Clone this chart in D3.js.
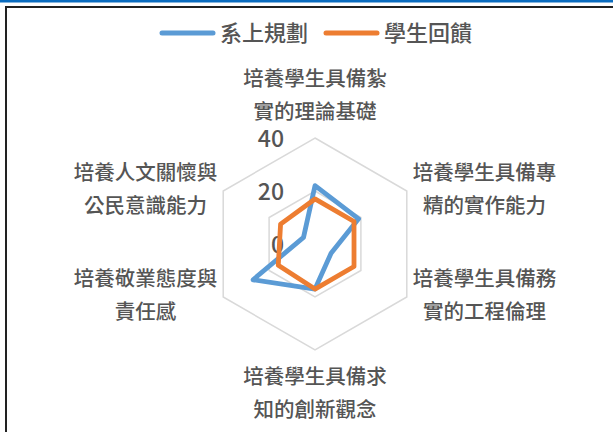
<!DOCTYPE html>
<html>
<head>
<meta charset="utf-8">
<script src="https://cdn.jsdelivr.net/npm/d3@7"></script>
<style>
  body { margin: 0; background: #fff; }
  text { font-family: "Noto Sans CJK TC", "Noto Sans", sans-serif; fill: #555; font-weight: 500; }
</style>
</head>
<body>
<div id="chart"></div>
<script>
// axis labels, two lines each, clockwise from the top
const axes = [
  ['培養學生具備紮', '實的理論基礎'],
  ['培養學生具備專', '精的實作能力'],
  ['培養學生具備務', '實的工程倫理'],
  ['培養學生具備求', '知的創新觀念'],
  ['培養敬業態度與', '責任感'],
  ['培養人文關懷與', '公民意識能力']
];
const seriesNames = ['系上規劃', '學生回饋'];
const planValues = [22, 19, 7, 17, 27, 5];
const feedbackValues = [17, 17, 17, 17, 16, 15];
const ticks = [0, 20, 40];

const width = 613;
const height = 432;
const cx = 315;
const cy = 244;
const colors = ['#5b9bd5', '#ed7d31'];

const svg = d3.select('#chart').append('svg')
  .attr('width', width)
  .attr('height', height);

// frame
svg.append('rect')
  .attr('x', 0).attr('y', 0)
  .attr('width', width).attr('height', 2.5)
  .style('fill', '#0a6cbf');
svg.append('path')
  .attr('d', `M6,${height} V7 H${width}`)
  .style('fill', 'none')
  .style('stroke', '#222')
  .style('stroke-width', 2);

const r = d3.scaleLinear().domain([0, 40]).range([0, 106]);
const angle = i => i * 2 * Math.PI / axes.length;

const g = svg.append('g')
  .attr('transform', `translate(${cx},${cy})`);

// grid rings
const ringLine = d3.lineRadial()
  .angle((d, i) => angle(i))
  .radius(d => r(d))
  .curve(d3.curveLinearClosed);

g.selectAll('.ring')
  .data(ticks.filter(t => t > 0))
  .enter()
  .append('path')
  .attr('class', 'ring')
  .attr('d', t => ringLine(axes.map(() => t)))
  .style('fill', 'none')
  .style('stroke', '#d9d9d9')
  .style('stroke-width', 1.5);

// tick labels
g.selectAll('.tick')
  .data(ticks)
  .enter()
  .append('text')
  .attr('class', 'tick')
  .attr('x', -31)
  .attr('y', t => -r(t) + 1)
  .attr('dy', '0.35em')
  .attr('text-anchor', 'end')
  .style('font-size', '23px')
  .text(t => t);

// series
const seriesLine = d3.lineRadial()
  .angle((d, i) => angle(i))
  .radius(d => r(d))
  .curve(d3.curveLinearClosed);

g.selectAll('.series')
  .data([planValues, feedbackValues])
  .enter()
  .append('path')
  .attr('class', 'series')
  .attr('d', seriesLine)
  .style('fill', 'none')
  .style('stroke', (d, i) => colors[i])
  .style('stroke-width', 4.8)
  .style('stroke-linejoin', 'round');

// axis labels
const outer = r(40);
const lineGap = 33;
const labelFont = 20.5;
axes.forEach((lines, i) => {
  const a = angle(i);
  const vx = outer * Math.sin(a);
  const vy = -outer * Math.cos(a);
  let x = vx;
  let y = vy;
  const halfW = d3.max(lines, s => s.length) * labelFont / 2;
  if (Math.abs(Math.sin(a)) < 0.01) {
    y = Math.cos(a) > 0 ? vy - 43 : vy + 43;
  } else {
    x = vx + Math.sign(Math.sin(a)) * (6 + halfW);
    y = vy - 2;
  }
  const t = g.append('text')
    .attr('text-anchor', 'middle')
    .style('font-size', labelFont + 'px');
  lines.forEach((s, j) => {
    t.append('tspan')
      .attr('x', x)
      .attr('y', y + (j - 0.5) * lineGap)
      .attr('dy', '0.35em')
      .text(s);
  });
});

// legend
const legend = svg.append('g').attr('class', 'legend');
const legendX = [160, 324];
seriesNames.forEach((name, i) => {
  legend.append('line')
    .attr('x1', legendX[i] + 2).attr('x2', legendX[i] + 53)
    .attr('y1', 33).attr('y2', 33)
    .style('stroke', colors[i])
    .style('stroke-width', 5)
    .style('stroke-linecap', 'round');
  legend.append('text')
    .attr('x', legendX[i] + 60)
    .attr('y', 33)
    .attr('dy', '0.35em')
    .style('font-size', '22px')
    .text(name);
});
</script>
</body>
</html>
